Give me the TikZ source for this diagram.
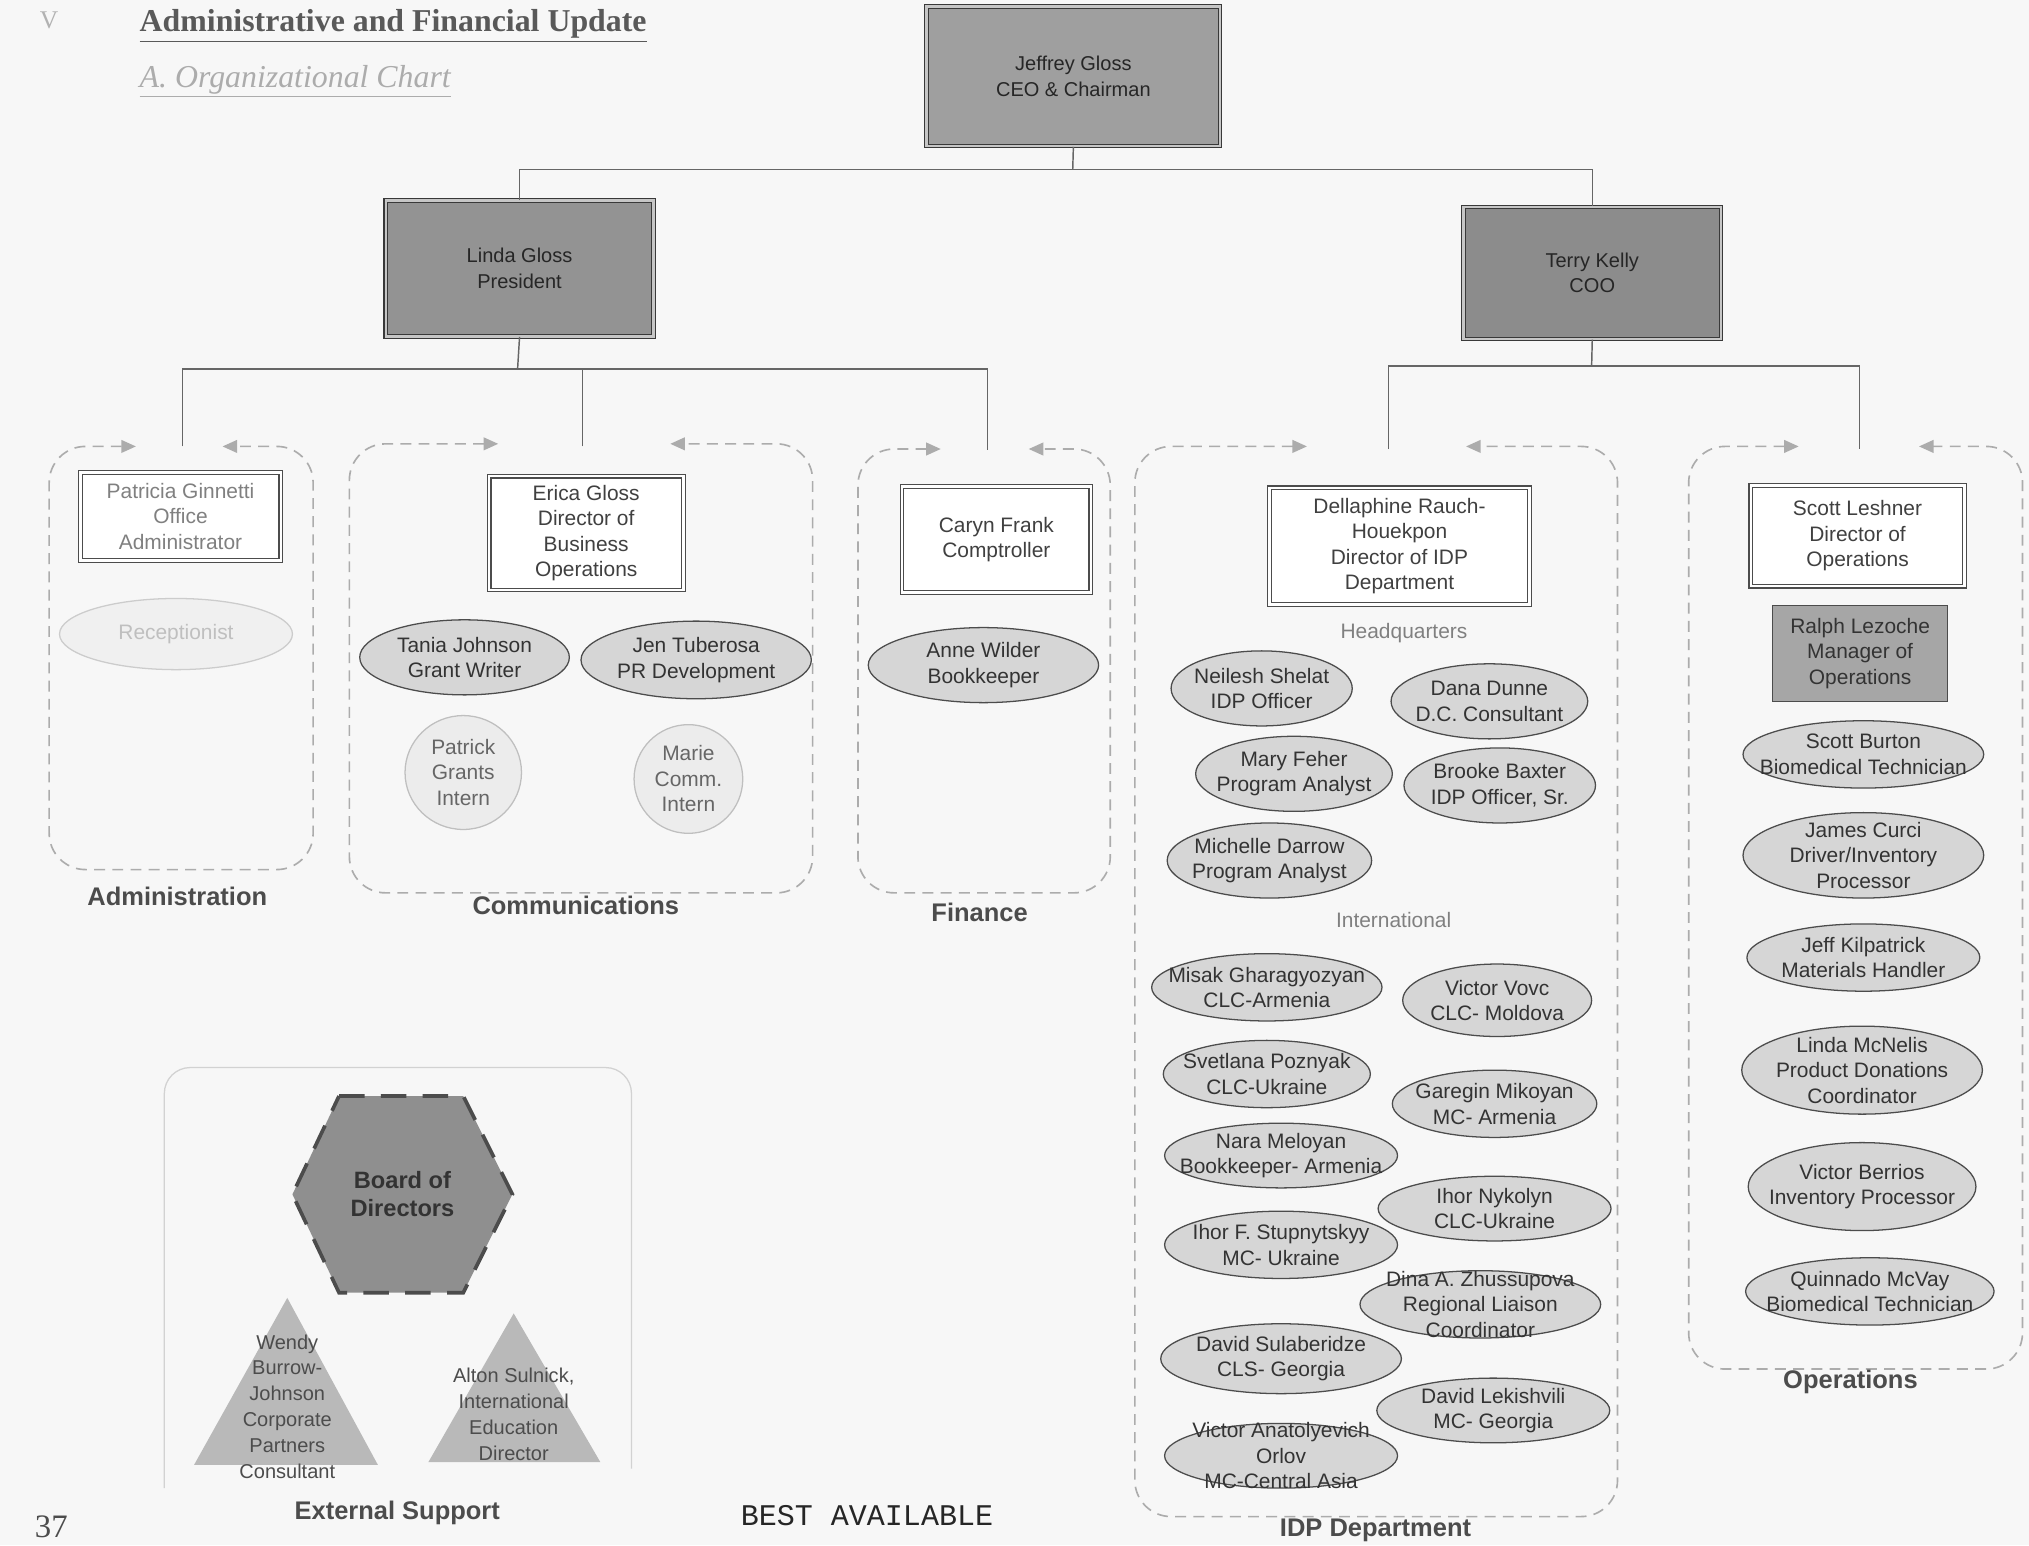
\documentclass[tikz,border=0pt]{standalone}
\usepackage{fontspec}
\setmainfont{Liberation Sans}
\newfontfamily\titlefont{Liberation Serif}
\newfontfamily\codefont{Liberation Mono}
\usepackage{tikz}
\usetikzlibrary{calc}
\usetikzlibrary{shapes}
\usetikzlibrary{arrows.meta}
\tikzset{
    link/.style={draw=gray!80!black, line width=0.8pt},
    topbox/.style={rectangle, draw=gray!45!black, double=gray!45, double distance=1.2pt, line width=0.6pt, align=center, text=black!85, font=\fontsize{11}{14}\selectfont, inner sep=2pt},
    headbox/.style={rectangle, draw=gray!60!black, double=white, double distance=1.4pt, line width=0.6pt, fill=white, align=center, text=black!75, font=\fontsize{11.5}{14}\selectfont, inner sep=2pt},
    mgrbox/.style={rectangle, draw=gray!60!black, line width=0.7pt, fill=gray!70, align=center, text=black!80, font=\fontsize{11.5}{14}\selectfont, inner sep=2pt},
    staff/.style={ellipse, draw=gray!60!black, line width=0.7pt, fill=gray!32, inner sep=0pt},
    stafftxt/.style={align=center, text=black!80, font=\fontsize{11.5}{14}\selectfont, inner sep=0pt},
    grp/.style={draw=gray!65, line width=0.9pt, dash pattern=on 6pt off 4pt, rounded corners=0.7cm, {Triangle[length=8pt,width=7pt]}-{Triangle[length=8pt,width=7pt]}},
    grplabel/.style={font=\bfseries\fontsize{14}{16}\selectfont, text=black!70},
    subhead/.style={font=\fontsize{11.5}{14}\selectfont, text=black!50},
    tri/.style={fill=gray!55},
    tritxt/.style={align=center, text=black!70, font=\fontsize{11}{14.2}\selectfont, inner sep=0pt},
}
\newcommand{\boxnode}[7]{\node[#1, minimum width={(#5-#3)*0.025cm}, minimum height={(#6-#4)*0.025cm}] (#2) at ({(#3+#5)/2},{(#4+#6)/2}) {#7};}
\newcommand{\staff}[6]{\node[staff, minimum width=#4*0.025cm, minimum height=#5*0.025cm] (#1) at (#2,#3) {}; \node[stafftxt] (#1-txt) at (#1) {#6};}
\newcommand{\grpframe}[6]{\draw[grp] (#5,#2) -- (#1,#2) -- (#1,#4) -- (#3,#4) -- (#3,#2) -- (#6,#2);}

\begin{document}
\begin{tikzpicture}[x=0.025cm, y=-0.025cm]
        \useasboundingbox[fill=gray!6] (0,0) rectangle (1568,1194);
        % heading
        \node[text=gray!60, font=\titlefont\fontsize{14}{16}\selectfont] (sect) at (38,16) {V};
        \node[anchor=west, text=black!65, font=\titlefont\bfseries\fontsize{17.5}{20}\selectfont] (title) at (103,20) {\underline{Administrative and Financial Update}};
        \node[anchor=west, text=gray!65, font=\titlefont\itshape\fontsize{17.5}{20}\selectfont] (subtitle) at (103,63) {\underline{A. Organizational Chart}};
        % executives
        \boxnode{topbox, fill=gray!75}{ceo}{716}{5}{943}{113}{Jeffrey Gloss\\CEO \& Chairman}
        \boxnode{topbox, fill=gray!85}{linda}{298}{155}{505}{260}{Linda Gloss\\President}
        \boxnode{topbox, fill=gray!90}{terry}{1131}{160}{1330}{262}{Terry Kelly\\COO}
        \coordinate (ceobar) at (829,131);
        \draw[link] (ceo.south) -- (ceobar);
        \draw[link] (linda.north) |- (ceobar) -| (terry.north);
        % president branch
        \coordinate (lindabar) at (400,285);
        \coordinate (admtop) at (141,345);
        \coordinate (comtop) at (450,345);
        \coordinate (fintop) at (763,348);
        \draw[link] (linda.south) -- (lindabar);
        \draw[link] (admtop) |- (lindabar) -| (fintop);
        \draw[link] (comtop) -- (comtop |- lindabar);
        % coo branch
        \coordinate (terrybar) at (1230,283);
        \coordinate (idptop) at (1073,347);
        \coordinate (opstop) at (1437,347);
        \draw[link] (terry.south) -- (terrybar);
        \draw[link] (idptop) |- (terrybar) -| (opstop);
        % group frames
        \grpframe{38}{345}{242}{672}{105}{172}
        \grpframe{270}{343}{628}{690}{385}{518}
        \grpframe{663}{347}{858}{690}{727}{795}
        \grpframe{877}{345}{1250}{1172}{1010}{1133}
        \grpframe{1305}{345}{1563}{1058}{1390}{1483}
        \node[grplabel] (admlabel) at (137,693) {Administration};
        \node[grplabel] (comlabel) at (445,700) {Communications};
        \node[grplabel] (finlabel) at (757,705) {Finance};
        \node[grplabel] (idplabel) at (1063,1183) {IDP Department};
        \node[grplabel] (opslabel) at (1430,1068) {Operations};
        % administration
        \boxnode{headbox, text=black!50}{patricia}{62}{365}{217}{433}{Patricia Ginnetti\\Office\\Administrator}
        \node[staff, draw=gray!40, fill=gray!12, minimum width=180*0.025cm, minimum height=55*0.025cm] (recep) at (136,490) {};
        \node[stafftxt, text=gray!50] (recep-txt) at (recep) {Receptionist};
        % communications
        \boxnode{headbox}{erica}{378}{368}{528}{456}{Erica Gloss\\Director of\\Business\\Operations}
        \staff{tania}{359}{508}{162}{58}{Tania Johnson\\Grant Writer}
        \staff{jen}{538}{510}{178}{60}{Jen Tuberosa\\PR Development}
        \node[staff, draw=gray!50, fill=gray!15, minimum width=90*0.025cm, minimum height=88*0.025cm] (patrick) at (358,597) {};
        \node[stafftxt, text=black!60] (patrick-txt) at (patrick) {Patrick\\Grants\\Intern};
        \node[staff, draw=gray!50, fill=gray!15, minimum width=84*0.025cm, minimum height=84*0.025cm] (marie) at (532,602) {};
        \node[stafftxt, text=black!60] (marie-txt) at (marie) {Marie\\Comm.\\Intern};
        % finance
        \boxnode{headbox}{caryn}{697}{376}{843}{458}{Caryn Frank\\Comptroller}
        \staff{anne}{760}{514}{178}{58}{Anne Wilder\\Bookkeeper}
        % idp department, headquarters
        \boxnode{headbox}{della}{981}{377}{1182}{467}{Dellaphine Rauch-\\Houekpon\\Director of IDP\\Department}
        \node[subhead] (hq) at (1085,489) {Headquarters};
        \staff{neilesh}{975}{532}{140}{58}{Neilesh Shelat\\IDP Officer}
        \staff{dana}{1151}{542}{152}{58}{Dana Dunne\\D.C. Consultant}
        \staff{mary}{1000}{598}{152}{58}{Mary Feher\\Program Analyst}
        \staff{brooke}{1159}{607}{148}{58}{Brooke Baxter\\IDP Officer, Sr.}
        \staff{michelle}{981}{665}{158}{58}{Michelle Darrow\\Program Analyst}
        % idp department, international
        \node[subhead] (intl) at (1077,711) {International};
        \staff{misak}{979}{763}{178}{52}{Misak Gharagyozyan\\CLC-Armenia}
        \staff{vovc}{1157}{773}{146}{56}{Victor Vovc\\CLC- Moldova}
        \staff{svetlana}{979}{830}{160}{52}{Svetlana Poznyak\\CLC-Ukraine}
        \staff{garegin}{1155}{853}{158}{52}{Garegin Mikoyan\\MC- Armenia}
        \staff{nara}{990}{893}{180}{50}{Nara Meloyan\\Bookkeeper- Armenia}
        \staff{nykolyn}{1155}{934}{180}{50}{Ihor Nykolyn\\CLC-Ukraine}
        \staff{stupnytskyy}{990}{962}{180}{52}{Ihor F. Stupnytskyy\\MC- Ukraine}
        \staff{dina}{1144}{1008}{186}{52}{Dina A. Zhussupova\\Regional Liaison\\Coordinator}
        \staff{sulaberidze}{990}{1050}{186}{54}{David Sulaberidze\\CLS- Georgia}
        \staff{lekishvili}{1154}{1090}{180}{50}{David Lekishvili\\MC- Georgia}
        \staff{orlov}{990}{1125}{180}{50}{Victor Anatolyevich\\Orlov\\MC-Central Asia}
        % operations
        \boxnode{headbox}{leshner}{1353}{375}{1518}{453}{Scott Leshner\\Director of\\Operations}
        \boxnode{mgrbox}{ralph}{1370}{468}{1505}{542}{Ralph Lezoche\\Manager of\\Operations}
        \staff{burton}{1440}{583}{186}{52}{Scott Burton\\Biomedical Technician}
        \staff{curci}{1440}{661}{186}{66}{James Curci\\Driver/Inventory\\Processor}
        \staff{kilpatrick}{1440}{740}{180}{52}{Jeff Kilpatrick\\Materials Handler}
        \staff{mcnelis}{1439}{827}{186}{68}{Linda McNelis\\Product Donations\\Coordinator}
        \staff{berrios}{1439}{917}{176}{68}{Victor Berrios\\Inventory Processor}
        \staff{mcvay}{1445}{998}{192}{52}{Quinnado McVay\\Biomedical Technician}
        % external support
        \draw[draw=gray!35, line width=0.7pt, rounded corners=0.5cm] (127,1150) -- (127,825) -- (488,825) -- (488,1135);
        \draw[fill=gray!88, draw=black!70, line width=2pt, dash pattern=on 14pt off 9pt] (262,847) -- (358,847) -- (396,923) -- (358,999) -- (262,999) -- (226,923) -- cycle;
        \node[align=center, text=black!80, font=\bfseries\fontsize{13}{15.5}\selectfont] (board) at (311,923) {Board of\\Directors};
        \fill[tri] (222,1003) -- (292,1132) -- (150,1132) -- cycle;
        \node[tritxt] (wendy) at (222,1087) {Wendy\\Burrow-\\Johnson\\Corporate\\Partners\\Consultant};
        \fill[tri] (397,1015) -- (464,1130) -- (331,1130) -- cycle;
        \node[tritxt] (alton) at (397,1093) {Alton Sulnick,\\International\\Education\\Director};
        \node[grplabel] (extlabel) at (307,1169) {External Support};
        % footer
        \node[text=black!85, font=\codefont\fontsize{16.5}{18}\selectfont] (best) at (670,1171) {BEST AVAILABLE};
        \node[anchor=west, text=black!70, font=\titlefont\fontsize{18}{20}\selectfont] (page) at (22,1180) {37};
\end{tikzpicture}
\end{document}
